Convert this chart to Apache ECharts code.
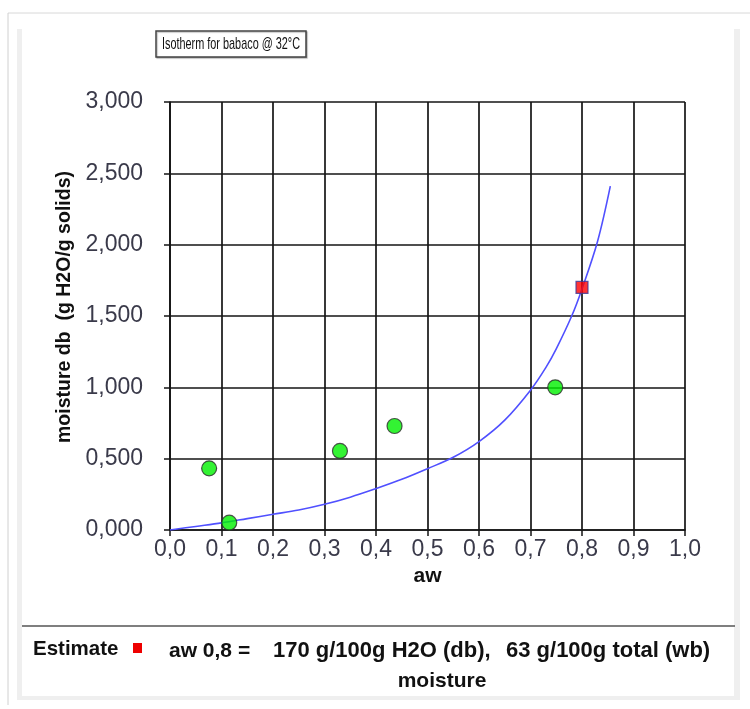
<!DOCTYPE html>
<html><head><meta charset="utf-8">
<script src="https://cdn.jsdelivr.net/npm/echarts@6/dist/echarts.min.js"></script>
<style>html,body{margin:0;padding:0;background:#fff}#c{width:750px;height:709px}</style>
</head><body><div id="c"></div>
<script>
// Measured data points (aw, moisture db)
const measuredAw = [0.076, 0.115, 0.330, 0.436, 0.748];
const measuredM  = [0.432, 0.051, 0.554, 0.729, 1.000];
// Estimate point
const estimateAw = [0.80];
const estimateM  = [1.70];
// Fitted isotherm curve
const curveAw = [0, 0.05, 0.10, 0.15, 0.20, 0.25, 0.30, 0.35, 0.40, 0.45, 0.50, 0.55, 0.60, 0.65, 0.70, 0.73, 0.75, 0.78, 0.80, 0.83, 0.855];
const curveM  = [0, 0.025, 0.05, 0.08, 0.11, 0.14, 0.18, 0.23, 0.29, 0.355, 0.43, 0.51, 0.62, 0.77, 0.98, 1.14, 1.27, 1.50, 1.69, 2.02, 2.41];

const chart = echarts.init(document.getElementById('c'), null, {renderer:'canvas'});
const lineCol = '#151515';
const labCol = '#3a3a4a';
const FF = 'Liberation Sans, Arial, sans-serif';
const zip = (a,b)=>a.map((v,i)=>[v,b[i]]);
chart.setOption({
  backgroundColor:'#fff',
  animation:false,
  grid:{left:170,right:65,top:102,bottom:179},
  xAxis:{type:'value',min:0,max:1,interval:0.1,
    name:'aw',nameLocation:'middle',nameGap:32,
    nameTextStyle:{fontFamily:FF,fontWeight:'bold',fontSize:21,color:'#111'},
    axisLine:{show:true,lineStyle:{color:lineCol,width:1.7}},
    axisTick:{show:true,inside:false,length:6,lineStyle:{color:lineCol,width:1.5}},
    splitLine:{show:true,lineStyle:{color:lineCol,width:1.7}},
    axisLabel:{margin:8,fontFamily:FF,fontSize:23,color:labCol,
      formatter:v=>v.toFixed(1).replace('.',',')}},
  yAxis:{type:'value',min:0,max:3,interval:0.5,
    name:'moisture db  (g H2O/g solids)',nameLocation:'middle',nameGap:95,nameRotate:90,
    nameTextStyle:{fontFamily:FF,fontWeight:'bold',fontSize:19.5,color:'#111',padding:[0,0,0,18]},
    axisLine:{show:true,lineStyle:{color:lineCol,width:1.7}},
    axisTick:{show:true,inside:false,length:6,lineStyle:{color:lineCol,width:1.5}},
    splitLine:{show:true,lineStyle:{color:lineCol,width:1.7}},
    axisLabel:{margin:27,fontFamily:FF,fontSize:23,color:labCol,
      formatter:v=>v.toFixed(3).replace('.',',')}},
  series:[
    {type:'line',data:zip(curveAw,curveM),smooth:0.35,showSymbol:false,symbol:'none',
      lineStyle:{color:'#5050ff',width:1.6},z:3},
    {type:'scatter',data:zip(measuredAw,measuredM),symbol:'circle',symbolSize:15,
      itemStyle:{color:'#00f000',borderColor:'#2a2a2a',borderWidth:1.2},z:4},
    {type:'scatter',data:zip(estimateAw,estimateM),symbol:'rect',symbolSize:12,
      itemStyle:{color:'#ff0000',borderColor:'#3a3a99',borderWidth:1.2},z:5}
  ],
  graphic:[
    {type:'line',shape:{x1:8,y1:13,x2:750,y2:13},style:{stroke:'#d8d8d8',lineWidth:1}},
    {type:'line',shape:{x1:8,y1:13,x2:8,y2:705},style:{stroke:'#d0d0d0',lineWidth:1}},
    {type:'rect',shape:{x:17,y:29,width:5,height:670},style:{fill:'#efefef'}},
    {type:'rect',shape:{x:734,y:29,width:6,height:670},style:{fill:'#efefef'}},
    {type:'rect',shape:{x:17,y:696,width:723,height:4},style:{fill:'#efefef'}},
    {type:'rect',shape:{x:156,y:31,width:150,height:26},style:{fill:'#fff',stroke:'#444',lineWidth:1.5,shadowColor:'rgba(0,0,0,0.25)',shadowOffsetX:1,shadowOffsetY:1,shadowBlur:1}},
    {type:'text',x:231,y:44,scaleX:0.64,style:{text:'Isotherm for babaco @ 32°C',fontFamily:FF,fontSize:17,fill:'#111',align:'center',verticalAlign:'middle'}},
    {type:'line',shape:{x1:22,y1:626,x2:735,y2:626},style:{stroke:'#555',lineWidth:1.5}},
    {type:'text',x:33,y:649,style:{text:'Estimate',fontFamily:FF,fontWeight:'bold',fontSize:20.5,fill:'#111',verticalAlign:'middle'}},
    {type:'rect',shape:{x:133,y:643,width:9,height:10},style:{fill:'#ee0000'}},
    {type:'text',x:169,y:651,style:{text:'aw 0,8 =',fontFamily:FF,fontWeight:'bold',fontSize:21,fill:'#111',verticalAlign:'middle'}},
    {type:'text',x:273,y:651,style:{text:'170 g/100g H2O (db),',fontFamily:FF,fontWeight:'bold',fontSize:22,fill:'#111',verticalAlign:'middle'}},
    {type:'text',x:506,y:651,style:{text:'63 g/100g total (wb)',fontFamily:FF,fontWeight:'bold',fontSize:22,fill:'#111',verticalAlign:'middle'}},
    {type:'text',x:442,y:681,style:{text:'moisture',fontFamily:FF,fontWeight:'bold',fontSize:21,fill:'#111',align:'center',verticalAlign:'middle'}}
  ]
});
</script></body></html>
